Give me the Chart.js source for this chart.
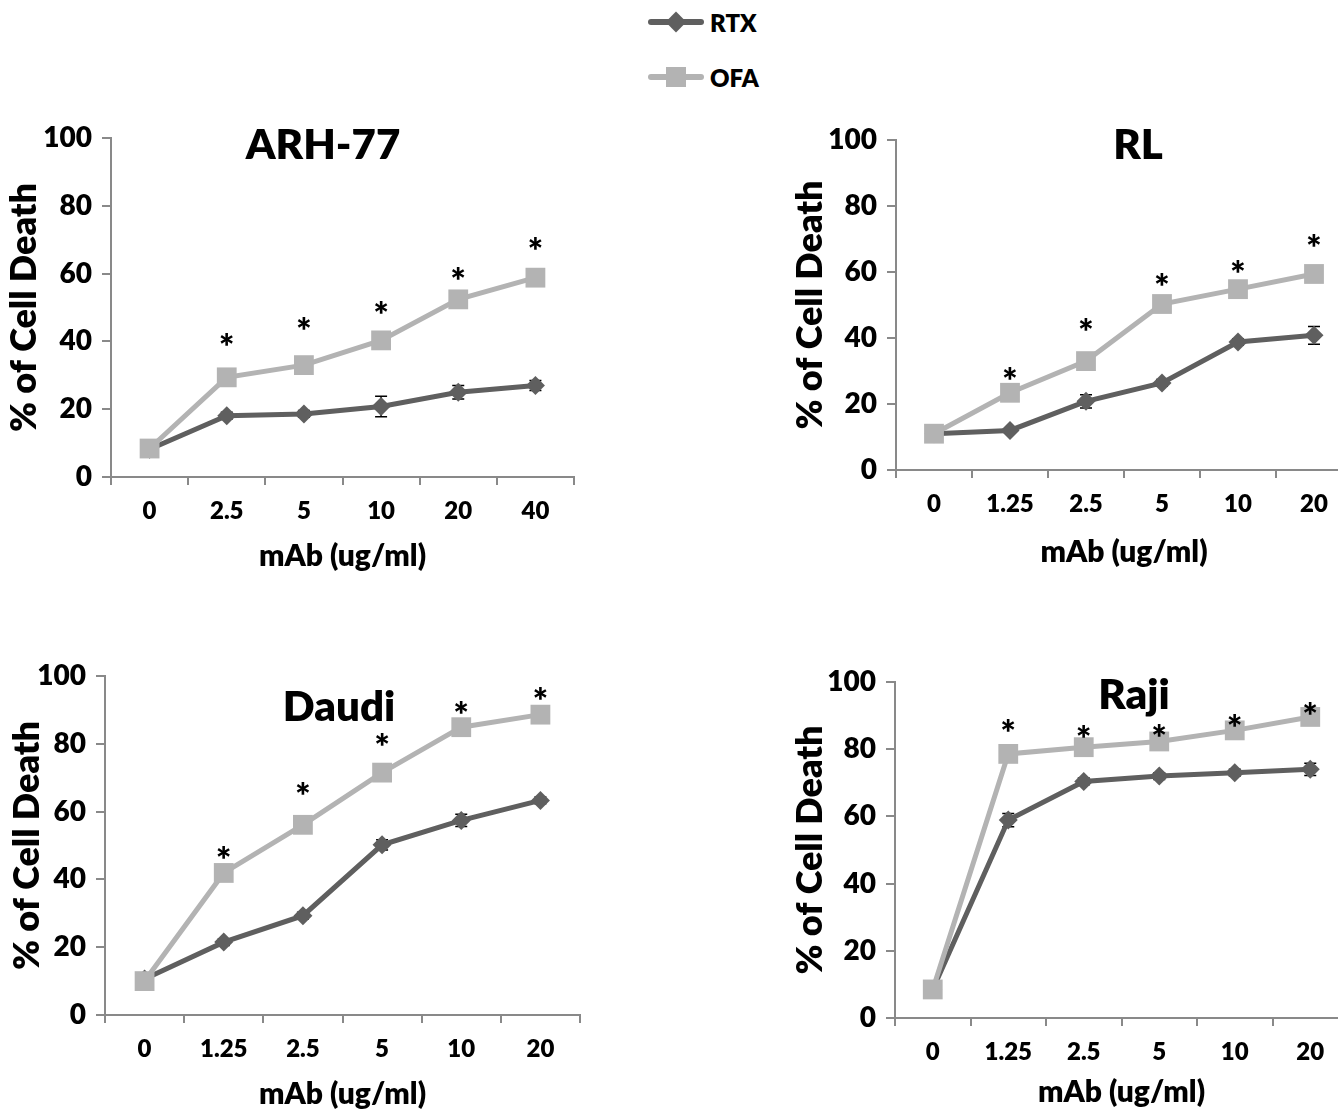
<!DOCTYPE html>
<html>
<head>
<meta charset="utf-8">
<script src="https://cdn.jsdelivr.net/npm/chart.js@4.4.1/dist/chart.umd.min.js"></script>
<style>
  html, body { margin: 0; padding: 0; background: #fff; overflow: hidden; width: 1338px; height: 1110px; }
  body { position: relative; font-family: Lato, 'Open Sans', sans-serif; }
  canvas { position: absolute; }
  .leg { position: absolute; left: 648px; height: 30px; display: flex; align-items: center; font-weight: 800; font-size: 24px; color: #000; }
  .leg .sym { position: relative; width: 56px; height: 30px; margin-right: 6px; }
  .leg .bar { position: absolute; left: 0; right: 0; top: 12px; height: 6px; border-radius: 3px; }
  .leg .mk { position: absolute; left: 19px; top: 6px; width: 18px; height: 18px; }
</style>
</head>
<body>
<div class="leg" style="top:7px">
  <div class="sym"><div class="bar" style="background:#5f5f5f"></div><div class="mk" style="background:#5f5f5f;transform:rotate(45deg) scale(0.82)"></div></div>RTX
</div>
<div class="leg" style="top:62px">
  <div class="sym"><div class="bar" style="background:#b3b3b3"></div><div class="mk" style="background:#b3b3b3;left:18px;top:5px;width:20px;height:20px"></div></div>OFA
</div>
<canvas id="arh" width="620" height="474" style="left:0;top:100px"></canvas>
<canvas id="rl" width="600" height="470" style="left:780px;top:100px"></canvas>
<canvas id="daudi" width="620" height="472" style="left:0;top:640px"></canvas>
<canvas id="raji" width="600" height="470" style="left:780px;top:640px"></canvas>
<script>
// --- data (% of cell death) ---
const seriesNames = ['RTX', 'OFA'];
const dosesARH = ['0', '2.5', '5', '10', '20', '40'];
const dosesOther = ['0', '1.25', '2.5', '5', '10', '20'];

const arhRtx = [8.2, 18.1, 18.6, 20.8, 25.0, 27.0];
const arhRtxErr = [0.8, 1.0, 1.0, 3.0, 2.0, 1.5];
const arhOfa = [8.4, 29.4, 33.0, 40.3, 52.4, 58.8];
const arhStars = [null, 40.3, 45.0, 50.0, 59.9, 68.8];

const rlRtx = [11.0, 12.0, 20.8, 26.4, 38.8, 40.8];
const rlRtxErr = [0.5, 0.8, 2.0, 1.0, 1.0, 2.7];
const rlOfa = [11.0, 23.4, 33.0, 50.3, 54.8, 59.4];
const rlStars = [null, 29.1, 44.0, 57.6, 61.4, 69.3];

const daudiRtx = [10.6, 21.5, 29.3, 50.2, 57.4, 63.3];
const daudiRtxErr = [0.5, 1.0, 1.0, 1.5, 1.8, 1.0];
const daudiOfa = [10.0, 41.9, 56.1, 71.5, 84.9, 88.6];
const daudiStars = [null, 47.7, 66.7, 81.0, 90.5, 94.8];

const rajiRtx = [8.5, 58.9, 70.4, 72.0, 73.0, 74.0];
const rajiRtxErr = [0.5, 2.0, 1.0, 1.0, 1.0, 1.8];
const rajiOfa = [8.5, 78.6, 80.6, 82.3, 85.6, 89.6];
const rajiStars = [null, 87.0, 85.0, 85.3, 88.4, 92.0];

const RTX_COLOR = '#5f5f5f';
const OFA_COLOR = '#b3b3b3';
const AXIS_COLOR = '#898989';
const FONT = 'Lato, "Open Sans", sans-serif';

// title, asterisks and error bars
const panelExtras = {
  id: 'panelExtras',
  beforeDatasetsDraw(chart) {
    const { ctx, scales: { x, y } } = chart;
    const err = chart.options.plugins.panelExtras.err;
    const vals = chart.data.datasets[0].data;
    ctx.save();
    ctx.strokeStyle = '#000';
    ctx.lineWidth = 1.5;
    vals.forEach((v, i) => {
      if (!err[i]) return;
      const px = x.getPixelForValue(i);
      const y1 = y.getPixelForValue(v + err[i]);
      const y2 = y.getPixelForValue(v - err[i]);
      ctx.beginPath();
      ctx.moveTo(px, y1); ctx.lineTo(px, y2);
      ctx.moveTo(px - 6, y1); ctx.lineTo(px + 6, y1);
      ctx.moveTo(px - 6, y2); ctx.lineTo(px + 6, y2);
      ctx.stroke();
    });
    ctx.restore();
  },
  afterDatasetsDraw(chart) {
    const { ctx, chartArea, scales: { x, y } } = chart;
    const o = chart.options.plugins.panelExtras;
    ctx.save();
    ctx.fillStyle = '#000';
    ctx.textAlign = 'center';
    ctx.textBaseline = 'middle';
    ctx.font = '800 42px ' + FONT;
    ctx.fillText(o.title, chartArea.left + o.titleX, chartArea.top + o.titleY);

    ctx.font = '800 36px ' + FONT;
    ctx.textBaseline = 'alphabetic';
    o.stars.forEach((s, i) => {
      if (s == null) return;
      ctx.fillText('*', x.getPixelForValue(i), y.getPixelForValue(s) + 20);
    });
    ctx.restore();
  }
};

function makePanel(id, cfg) {
  return new Chart(document.getElementById(id), {
    type: 'line',
    data: {
      labels: cfg.labels,
      datasets: [{
        label: seriesNames[0],
        data: cfg.rtx,
        borderColor: RTX_COLOR,
        backgroundColor: RTX_COLOR,
        borderWidth: 5,
        pointStyle: 'rectRot',
        pointRadius: 9.5,
        pointBorderWidth: 0,
        order: 1
      }, {
        label: seriesNames[1],
        data: cfg.ofa,
        borderColor: OFA_COLOR,
        backgroundColor: OFA_COLOR,
        borderWidth: 5,
        pointStyle: 'rect',
        pointRadius: 14,
        pointBorderWidth: 0,
        order: 0
      }]
    },
    options: {
      responsive: false,
      animation: false,
      layout: { padding: { top: cfg.padTop, right: cfg.padRight, left: 0, bottom: 0 } },
      plugins: {
        legend: { display: false },
        tooltip: { enabled: false },
        panelExtras: { title: cfg.title, titleX: cfg.titleX, titleY: cfg.titleY, stars: cfg.stars, err: cfg.err }
      },
      scales: {
        x: {
          offset: true,
          afterFit: s => { s.height = cfg.xHeight; },
          grid: { offset: true, drawOnChartArea: false, color: AXIS_COLOR, lineWidth: 2, tickLength: 8 },
          border: { color: AXIS_COLOR, width: 2 },
          ticks: { color: '#000', padding: 12, font: { family: FONT, size: 24, weight: '800' } },
          title: { display: true, text: 'mAb (ug/ml)', color: '#000', padding: { top: 0, bottom: 0 },
                   font: { family: FONT, size: 30, weight: '800' } }
        },
        y: {
          min: 0, max: 100,
          afterFit: s => { s.width = cfg.yWidth; },
          grid: { drawOnChartArea: false, color: AXIS_COLOR, lineWidth: 2, tickLength: 9 },
          border: { color: AXIS_COLOR, width: 2 },
          ticks: { stepSize: 20, color: '#000', padding: 10, font: { family: FONT, size: 28, weight: '800' } },
          title: { display: true, text: '% of Cell Death', color: '#000', padding: { top: cfg.yTitlePad, bottom: 0 },
                   font: { family: FONT, size: 36, weight: '800' } }
        }
      }
    },
    plugins: [panelExtras]
  });
}

// canvas top 100: axis 138..476, x 111..574
makePanel('arh', { labels: dosesARH, rtx: arhRtx, ofa: arhOfa, err: arhRtxErr, stars: arhStars,
  title: 'ARH-77', titleX: 212, titleY: 7,
  padTop: 38, padRight: 46, yWidth: 111, xHeight: 97, yTitlePad: 3 });
// canvas left 780 top 100: axis 140..468, x 896..1352
makePanel('rl', { labels: dosesOther, rtx: rlRtx, ofa: rlOfa, err: rlRtxErr, stars: rlStars,
  title: 'RL', titleX: 242, titleY: 5,
  padTop: 40, padRight: 28, yWidth: 116, xHeight: 100, yTitlePad: 9 });
// canvas top 640: axis 676..1014, x 105..580
makePanel('daudi', { labels: dosesOther, rtx: daudiRtx, ofa: daudiOfa, err: daudiRtxErr, stars: daudiStars,
  title: 'Daudi', titleX: 234, titleY: 31,
  padTop: 36, padRight: 40, yWidth: 105, xHeight: 97, yTitlePad: 6 });
// canvas left 780 top 640: axis 682..1017, x 895..1348
makePanel('raji', { labels: dosesOther, rtx: rajiRtx, ofa: rajiOfa, err: rajiRtxErr, stars: rajiStars,
  title: 'Raji', titleX: 239, titleY: 13,
  padTop: 42, padRight: 32, yWidth: 115, xHeight: 92, yTitlePad: 9 });
</script>
</body>
</html>
